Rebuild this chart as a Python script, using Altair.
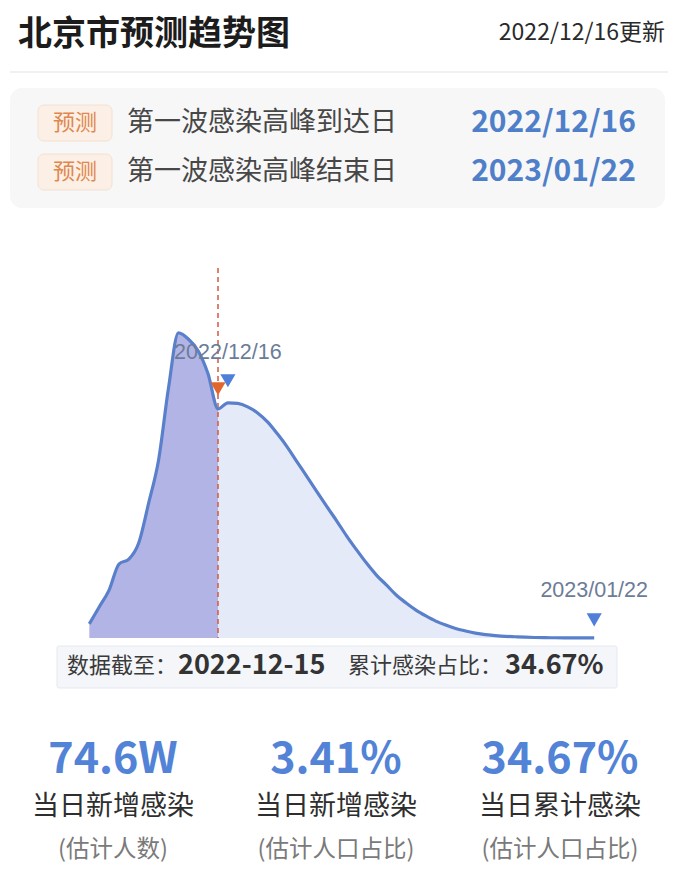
import altair as alt
import pandas as pd

# ---- data (values in 万人) ----
actual_dates = pd.date_range("2022-12-02", "2022-12-15").strftime("%Y-%m-%d").tolist()
actual_values = [4.6, 10.1, 15.6, 24.1, 25.7, 31.0, 44.0, 58.0, 81.4, 99.4, 97.4, 93.5, 86.0, 74.6]

forecast_dates = pd.date_range("2022-12-15", "2023-01-22").strftime("%Y-%m-%d").tolist()
forecast_values = [74.6, 76.6, 76.4, 75.3, 73.3, 70.4, 66.5, 62.2, 57.3, 52.5, 47.6, 42.8, 38.1,
                   33.2, 28.7, 24.4, 20.5, 17.3, 14.0, 11.4, 9.1, 7.2, 5.5, 4.2, 3.1, 2.3, 1.6,
                   1.1, 0.8, 0.55, 0.4, 0.26, 0.16, 0.11, 0.08, 0.05, 0.03, 0.02, 0.01]

cutoff_date = "2022-12-15"
peak_date = "2022-12-16"
end_date = "2023-01-22"

header_title = "北京市预测趋势图"
update_text = "2022/12/16更新"
badge_text = "预测"
row_labels = ["第一波感染高峰到达日", "第一波感染高峰结束日"]
row_dates = ["2022/12/16", "2023/01/22"]
cutoff_parts = ["数据截至：", "2022-12-15", "累计感染占比：", "34.67%"]
stat_values = ["74.6W", "3.41%", "34.67%"]
stat_labels = ["当日新增感染", "当日新增感染", "当日累计感染"]
stat_subs = ["(估计人数)", "(估计人口占比)", "(估计人口占比)"]

actual_df = pd.DataFrame({"date": actual_dates, "value": actual_values})
forecast_df = pd.DataFrame({"date": forecast_dates, "value": forecast_values})
all_df = pd.concat([actual_df, forecast_df.iloc[1:]], ignore_index=True)

CJK = "Noto Sans CJK SC"

xs = alt.Scale(nice=False, range=[81.3, 586.2])
ys = alt.Scale(domain=[0, 100], range=[630, 323], nice=False, zero=True)
X = alt.X("date:T", scale=xs, axis=None)
Y = alt.Y("value:Q", scale=ys, axis=None)

dummy = alt.Data(values=[{"a": 1}])

def rect(x1, x2, y1, y2, fill, stroke=None, r=0):
    kw = dict(fill=fill, cornerRadius=r)
    if stroke:
        kw.update(stroke=stroke, strokeWidth=1)
    return alt.Chart(dummy).mark_rect(**kw).encode(
        x=alt.value(x1), x2=alt.value(x2), y=alt.value(y1), y2=alt.value(y2))

def txt(s, x, y, size, color, align="left", weight="normal", font=CJK):
    return alt.Chart(dummy).mark_text(
        text=s, fontSize=size, color=color, align=align, baseline="middle",
        fontWeight=weight, font=font).encode(x=alt.value(x), y=alt.value(y))

layers = []
# header
layers.append(txt(header_title, 10, 27, 34, "#1c1c1c", weight="bold"))
layers.append(txt(update_text, 657, 25, 23, "#2a2a2a", align="right"))
layers.append(alt.Chart(dummy).mark_rule(color="#ececec", strokeWidth=1.5).encode(
    x=alt.value(2), x2=alt.value(660), y=alt.value(64)))
# info box
layers.append(rect(2, 657, 80, 200, "#f7f7f8", r=12))
for i, yc in enumerate([115, 164]):
    layers.append(rect(30, 104, yc - 18, yc + 18, "#fcefe5", stroke="#f3e0d2", r=6))
    layers.append(txt(badge_text, 67, yc, 22, "#e0874f", align="center"))
    layers.append(txt(row_labels[i], 119, yc, 27, "#474747"))
    layers.append(txt(row_dates[i], 628, yc, 30, "#4f7fc9", align="right", weight="bold"))

# chart areas
area_dark = alt.Chart(actual_df).mark_area(color="#b3b4e6", interpolate="monotone", opacity=1).encode(x=X, y=Y)
area_light = alt.Chart(forecast_df).mark_area(color="#e4eaf8", interpolate="monotone", opacity=1).encode(x=X, y=Y)
line = alt.Chart(all_df).mark_line(color="#5a80cb", strokeWidth=3.2, interpolate="monotone").encode(x=X, y=Y)
layers += [area_dark, area_light]

vline_df = pd.DataFrame({"date": [cutoff_date], "top": [120.5], "bottom": [0]})
vline = alt.Chart(vline_df).mark_rule(color="#d4583e", strokeDash=[5, 4], strokeWidth=1.5).encode(
    x=X, y=alt.Y("top:Q", scale=ys, axis=None), y2="bottom:Q")
layers += [vline, line]

marks_df = pd.DataFrame({
    "date": [cutoff_date, peak_date, end_date],
    "value": [81.2, 83.8, 5.9],
    "kind": ["actual", "peak", "end"],
})
tri = alt.Chart(marks_df).mark_point(shape="triangle-down", filled=True, size=230, opacity=1).encode(
    x=X, y=Y,
    color=alt.Color("kind:N", scale=alt.Scale(domain=["actual", "peak", "end"],
                                              range=["#e0662e", "#4f7fd9", "#4f7fd9"]), legend=None))
lab_df = pd.DataFrame({"date": [peak_date, end_date], "value": [92.8, 15.3],
                       "label": ["2022/12/16", "2023/01/22"]})
labels = alt.Chart(lab_df).mark_text(fontSize=21.5, color="#6c7c98", font="Liberation Sans, Noto Sans",
                                     baseline="middle").encode(x=X, y=Y, text="label:N")
layers += [tri, labels]

# cutoff box
layers.append(rect(49, 609, 638, 680, "#f4f6fa", stroke="#e4e9f1", r=2))
layers.append(txt(cutoff_parts[0], 59, 658, 22, "#3a3a3a"))
layers.append(txt(cutoff_parts[1], 170, 658, 27, "#333333", weight="bold"))
layers.append(txt(cutoff_parts[2], 340, 658, 22, "#3a3a3a"))
layers.append(txt(cutoff_parts[3], 497, 658, 27, "#333333", weight="bold"))

# bottom stats
for cx, v, l, s in zip([105, 328, 552], stat_values, stat_labels, stat_subs):
    layers.append(txt(v, cx, 752, 43, "#5283d6", align="center", weight="bold"))
    layers.append(txt(l, cx, 799, 27, "#2e2e2e", align="center"))
    layers.append(txt(s, cx, 842, 23.5, "#7a7a7a", align="center"))

chart = alt.layer(*layers).properties(
    width=665, height=865, padding=0,
    autosize=alt.AutoSizeParams(type="none"),
    background="white",
).configure_view(strokeWidth=0)

chart.save("out.html", embed_options={"renderer": "svg", "actions": False})
